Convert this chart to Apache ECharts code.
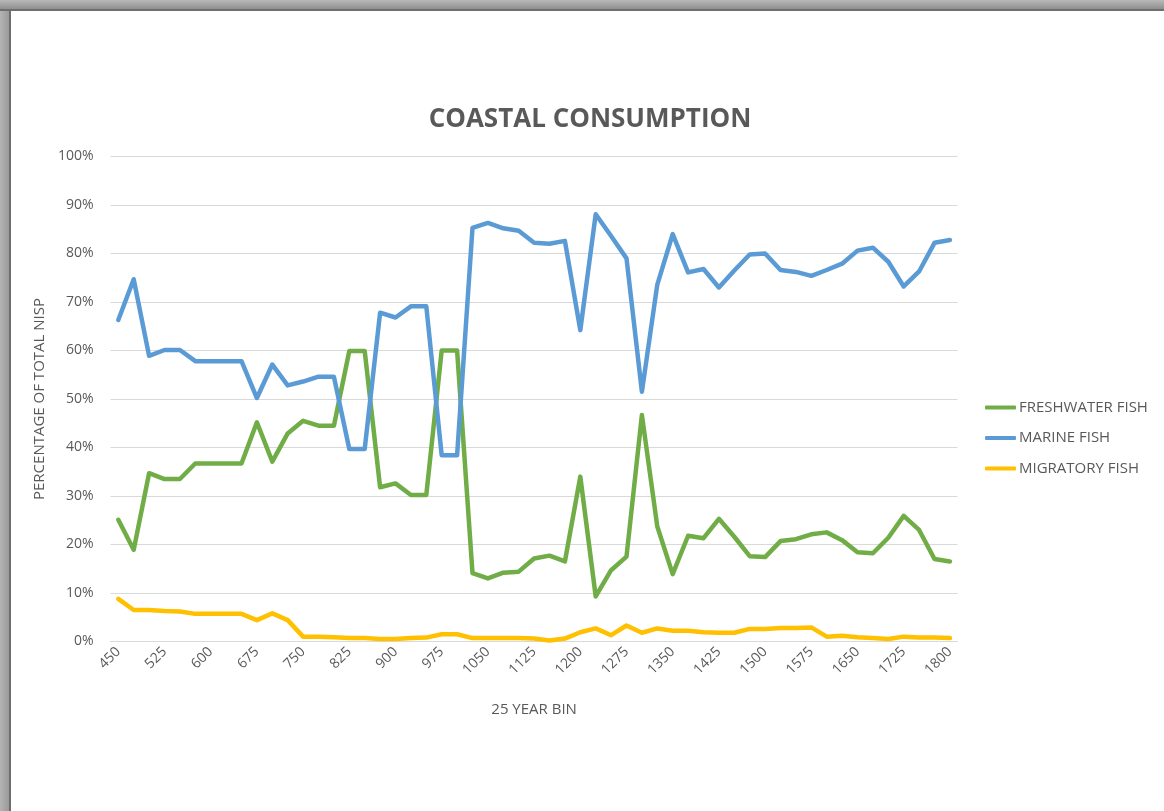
<!DOCTYPE html>
<html>
<head>
<meta charset="utf-8">
<script src="https://cdn.jsdelivr.net/npm/echarts@6/dist/echarts.min.js"></script>
<style>
  html, body { margin: 0; padding: 0; background: #ffffff; }
  #chart { width: 1164px; height: 811px; }
</style>
</head>
<body>
<div id="chart"></div>
<script>
// 25-year bins
const yearBins = [
  '450','475','500','525','550','575','600','625','650','675','700','725','750','775','800','825','850','875','900','925','950','975','1000','1025','1050','1075','1100','1125','1150','1175','1200','1225','1250','1275','1300','1325','1350','1375','1400','1425','1450','1475','1500','1525','1550','1575','1600','1625','1650','1675','1700','1725','1750','1775','1800'
];

// Share of total NISP per bin, in percent
const freshwaterFish = [
  25.1, 18.9, 34.7, 33.5, 33.5, 36.7, 36.7, 36.7, 36.7, 45.2, 37.1, 42.9, 45.5, 44.5, 44.5, 59.9, 59.9, 31.8, 32.6, 30.2,
  30.2, 60.0, 60.0, 14.1, 13.0, 14.2, 14.4, 17.1, 17.7, 16.5, 34.0, 9.3, 14.7, 17.5, 46.7, 23.7, 13.9, 21.8, 21.3, 25.3,
  21.6, 17.6, 17.4, 20.7, 21.1, 22.1, 22.5, 20.9, 18.4, 18.2, 21.4, 25.9, 23.0, 17.0, 16.5
];
const marineFish = [
  66.3, 74.7, 58.9, 60.1, 60.1, 57.8, 57.8, 57.8, 57.8, 50.2, 57.1, 52.8, 53.6, 54.6, 54.6, 39.7, 39.7, 67.8, 66.8, 69.1,
  69.1, 38.4, 38.4, 85.3, 86.3, 85.2, 84.7, 82.2, 82.0, 82.6, 64.2, 88.1, 83.6, 79.0, 51.5, 73.6, 84.0, 76.1, 76.8, 73.0,
  76.5, 79.8, 80.0, 76.6, 76.2, 75.4, 76.6, 77.9, 80.6, 81.2, 78.3, 73.2, 76.3, 82.2, 82.8
];
const migratoryFish = [
  8.8, 6.5, 6.5, 6.3, 6.2, 5.7, 5.7, 5.7, 5.7, 4.4, 5.8, 4.4, 1.0, 1.0, 0.9, 0.7, 0.7, 0.5, 0.5, 0.7,
  0.8, 1.5, 1.5, 0.7, 0.7, 0.7, 0.7, 0.6, 0.2, 0.6, 1.9, 2.7, 1.3, 3.3, 1.8, 2.7, 2.2, 2.2, 1.9, 1.8,
  1.8, 2.6, 2.6, 2.8, 2.8, 2.9, 1.0, 1.2, 0.9, 0.7, 0.5, 1.0, 0.8, 0.8, 0.7
];

const seriesNames = ['FRESHWATER FISH', 'MARINE FISH', 'MIGRATORY FISH'];
const seriesColors = ['#70AD47', '#5B9BD5', '#FFC000'];
const seriesData = [freshwaterFish, marineFish, migratoryFish];

const FONT = "'Open Sans', 'Liberation Sans', sans-serif";
const TEXT = '#595959';

const chart = echarts.init(document.getElementById('chart'), null, { renderer: 'canvas' });

chart.setOption({
  backgroundColor: '#ffffff',
  animation: false,
  title: {
    text: 'COASTAL CONSUMPTION',
    left: 585,
    textAlign: 'center',
    top: 102,
    textStyle: { fontFamily: FONT, fontSize: 26, fontWeight: 'bold', color: TEXT }
  },
  legend: {
    orient: 'vertical',
    left: 980,
    top: 395,
    itemWidth: 31,
    itemHeight: 4,
    itemGap: 15.5,
    icon: 'roundRect',
    textStyle: { fontFamily: FONT, fontSize: 15, color: TEXT, padding: [0, 0, 0, -2] },
    data: seriesNames
  },
  grid: { left: 110.6, right: 206.4, top: 156.5, bottom: 169.5, containLabel: false },
  xAxis: {
    type: 'category',
    data: yearBins,
    boundaryGap: true,
    name: '25 YEAR BIN',
    nameLocation: 'middle',
    nameGap: 61,
    nameTextStyle: { fontFamily: FONT, fontSize: 15, color: TEXT },
    axisLine: { show: true, lineStyle: { color: '#d9d9d9', width: 1 } },
    axisTick: { show: false },
    axisLabel: {
      interval: 2,
      rotate: 45,
      margin: 8,
      fontFamily: FONT,
      fontSize: 14,
      color: TEXT
    }
  },
  yAxis: {
    type: 'value',
    min: 0,
    max: 100,
    interval: 10,
    name: 'PERCENTAGE OF TOTAL NISP',
    nameLocation: 'middle',
    nameGap: 62,
    nameTextStyle: { fontFamily: FONT, fontSize: 15, color: TEXT },
    axisLine: { show: false },
    axisTick: { show: false },
    axisLabel: { formatter: '{value}%', margin: 17, fontFamily: FONT, fontSize: 14, color: TEXT },
    splitLine: { lineStyle: { color: '#d9d9d9', width: 1 } }
  },
  series: seriesNames.map((name, k) => ({
    name: name,
    type: 'line',
    data: seriesData[k],
    showSymbol: false,
    symbol: 'none',
    color: seriesColors[k],
    lineStyle: { width: 4.5, color: seriesColors[k], cap: 'round', join: 'round' },
    emphasis: { disabled: true }
  })),
  graphic: [
    // window frame along the top edge
    {
      type: 'rect', left: 0, top: 0, z: 100,
      shape: { width: 1164, height: 9 },
      style: { fill: new echarts.graphic.LinearGradient(0, 0, 0, 1, [
        { offset: 0, color: '#b9b9b9' }, { offset: 1, color: '#8f8f8f' }
      ]) }
    },
    { type: 'rect', left: 0, top: 9, z: 100, shape: { width: 1164, height: 2 }, style: { fill: '#6e6e6e' } },
    // window frame along the left edge
    {
      type: 'rect', left: 0, top: 0, z: 99,
      shape: { width: 9, height: 811 },
      style: { fill: new echarts.graphic.LinearGradient(0, 0, 1, 0, [
        { offset: 0, color: '#b4b4b4' }, { offset: 1, color: '#9a9a9a' }
      ]) }
    },
    { type: 'rect', left: 9, top: 9, z: 100, shape: { width: 2, height: 802 }, style: { fill: '#6e6e6e' } }
  ]
});
</script>
</body>
</html>
